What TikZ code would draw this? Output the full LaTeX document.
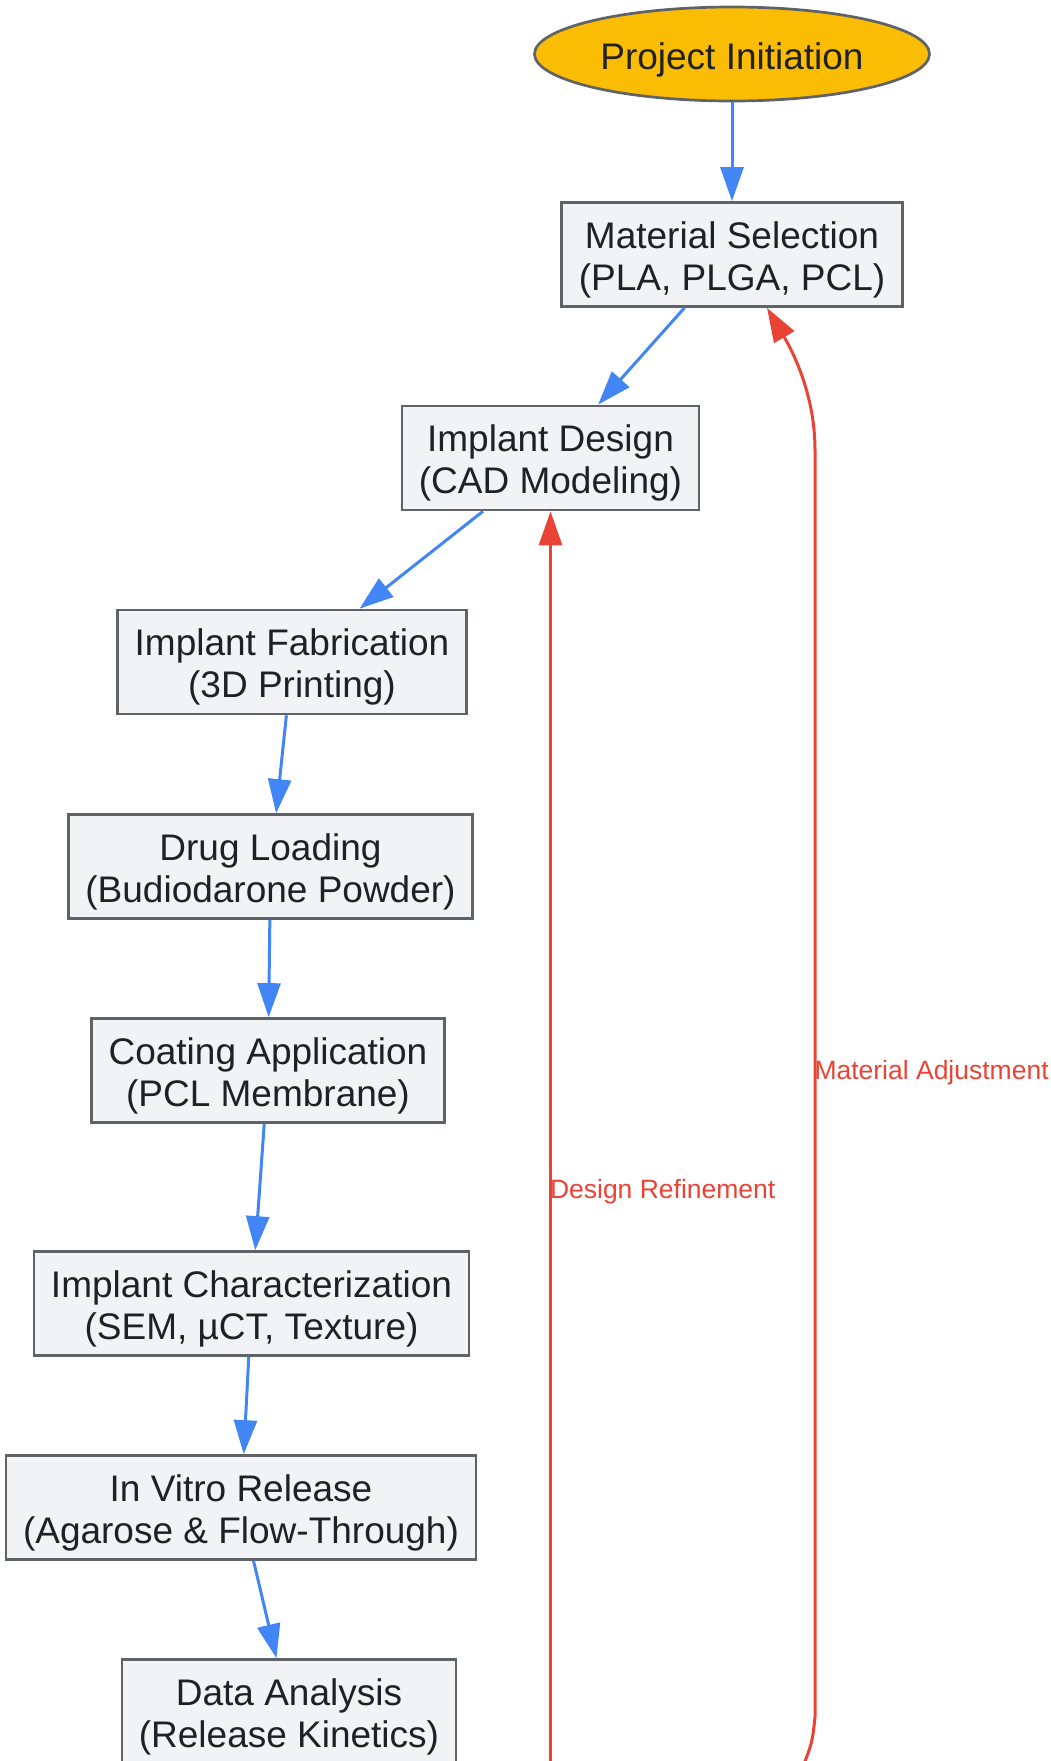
\documentclass[tikz,border=0pt]{standalone}
\usepackage{fontspec}
\setmainfont{Liberation Sans}
\usetikzlibrary{shapes.geometric,
	arrows.meta,
	positioning}
\definecolor{boxfill}{HTML}{F1F3F4}
\definecolor{boxline}{HTML}{5F6368}
\definecolor{startfill}{HTML}{FBBC04}
\definecolor{ink}{HTML}{202124}
\definecolor{flowblue}{HTML}{4285F4}
\definecolor{backred}{HTML}{EA4335}
\newcommand{\tstrut}{\rule{0pt}{37pt}}
\tikzstyle{ov}=[draw=boxline, fill=startfill, ellipse, line width=2.7pt, minimum width=395pt,
		minimum height=94pt, inner sep=0, text height=37pt, text depth=5pt, text=ink,
		font=\fontsize{37pt}{42pt}\selectfont]
\tikzstyle{bx}=[draw=boxline, fill=boxfill, line width=2.7pt, minimum height=104pt,
		inner xsep=17pt, inner ysep=5pt, align=center, text=ink,
		font=\fontsize{37pt}{42pt}\selectfont]
\tikzstyle{fl}=[draw=flowblue, line width=3pt, -{Triangle[length=34pt,width=23pt]}]
\tikzstyle{fb}=[draw=backred, line width=3pt, -{Triangle[length=34pt,width=23pt]}]
\tikzstyle{lbl}=[text=backred, inner sep=0, anchor=base west, xshift=-2pt,
		font=\fontsize{26.5pt}{31pt}\selectfont]

\begin{document}
\begin{tikzpicture}[x=1pt, y=-1pt]
	\useasboundingbox (0,0) rectangle (1050,1761);
	% process steps
	\node[ov] (init) at (732,54) {Project Initiation};
	\node[bx] (matsel) at (732,254.5) {\tstrut Material Selection\\(PLA, PLGA, PCL)};
	\node[bx] (design) at (550.5,458) {\tstrut Implant Design\\(CAD Modeling)};
	\node[bx] (fab) at (292,662) {\tstrut Implant Fabrication\\(3D Printing)};
	\node[bx] (drug) at (270.5,866.5) {\tstrut Drug Loading\\(Budiodarone Powder)};
	\node[bx] (coat) at (268,1070.5) {\tstrut Coating Application\\(PCL Membrane)};
	\node[bx] (charac) at (251.5,1303.5) {\tstrut Implant Characterization\\(SEM, µCT, Texture)};
	\node[bx] (invitro) at (241,1507.5) {\tstrut In Vitro Release\\(Agarose \& Flow-Through)};
	\node[bx] (data) at (289,1711.5) {\tstrut Data Analysis\\(Release Kinetics)};
	% forward flow
	\draw[fl] (init) -- (matsel);
	\draw[fl] (matsel) -- (design);
	\draw[fl] (design) -- (fab);
	\draw[fl] (fab) -- (drug);
	\draw[fl] (drug) -- (coat);
	\draw[fl] (coat) -- (charac);
	\draw[fl] (charac) -- (invitro);
	\draw[fl] (invitro) -- (data);
	% feedback loops
	\coordinate (drbot) at (550.5,1790);
	\coordinate (mabot) at (795,1785);
	\draw[fb] (drbot) -- node[lbl, pos=0.463] (drlab) {Design Refinement} (design);
	\draw[fb] (mabot) .. controls (812,1745) .. (815,1717)
		-- node[lbl, pos=0.503] (malab) {Material Adjustment} (815,450)
		.. controls (815,395) and (793,352) .. ([xshift=35pt]matsel.south);
\end{tikzpicture}
\end{document}
